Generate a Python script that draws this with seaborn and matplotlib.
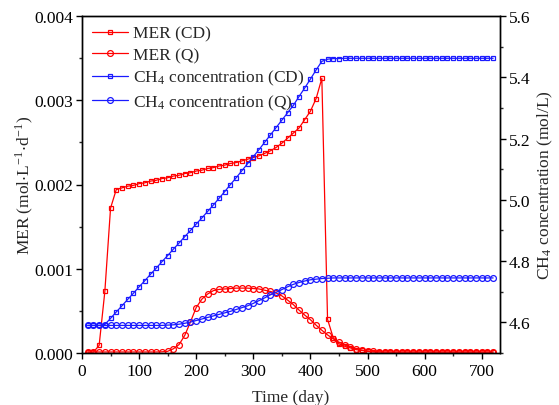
import matplotlib
matplotlib.use("Agg")
import matplotlib.pyplot as plt
import seaborn as sns
import pandas as pd
from matplotlib.ticker import MultipleLocator, FormatStrFormatter
from matplotlib.lines import Line2D

# ---------------- data ----------------
days = list(range(10, 730, 10))

mer_cd = [0.00001, 0.00001, 0.00009, 0.00073, 0.00172, 0.00194, 0.00196, 0.00198, 0.00199, 0.00201,
          0.00202, 0.00204, 0.00205, 0.00207, 0.00208, 0.00210, 0.00211, 0.00213, 0.00214, 0.00216,
          0.00217, 0.00219, 0.00220, 0.00222, 0.00223, 0.00225, 0.00226, 0.00228, 0.00230, 0.00232,
          0.00234, 0.00237, 0.00240, 0.00244, 0.00249, 0.00255, 0.00261, 0.00267, 0.00277, 0.00287,
          0.00302, 0.00326, 0.00040, 0.00018, 0.00011, 0.00008, 0.00006, 0.00004, 0.00003, 0.00002,
          0.00001, 0.00001, 0.00001, 0.00001, 0.00001, 0.00001, 0.00001, 0.00001, 0.00001, 0.00001,
          0.00001, 0.00001, 0.00001, 0.00001, 0.00001, 0.00001, 0.00001, 0.00001, 0.00001, 0.00001,
          0.00001, 0.00001]

mer_q = [0.000012, 0.000012, 0.000012, 0.000012, 0.000012, 0.000012, 0.000012, 0.000012, 0.000012, 0.000012,
         0.000012, 0.000012, 0.000012, 0.000014, 0.00002, 0.00005, 0.00010, 0.00021, 0.00037, 0.00054,
         0.00064, 0.00070, 0.00074, 0.000755, 0.00076, 0.000765, 0.00077, 0.00077, 0.00077, 0.000765,
         0.00076, 0.000745, 0.00073, 0.000712, 0.000678, 0.000628, 0.000575, 0.00051, 0.00045, 0.000395,
         0.00033, 0.00027, 0.000215, 0.000168, 0.000128, 0.000095, 0.00007, 0.00005, 0.000035, 0.000025,
         0.00002, 0.000015, 0.000012, 0.000012, 0.000012, 0.000012, 0.000012, 0.000012, 0.000012, 0.000012,
         0.000012, 0.000012, 0.000012, 0.000012, 0.000012, 0.000012, 0.000012, 0.000012, 0.000012, 0.000012,
         0.000012, 0.000012]

ch4_cd = [4.590, 4.590, 4.590, 4.593, 4.613, 4.634, 4.654, 4.675, 4.695, 4.716,
          4.736, 4.757, 4.777, 4.798, 4.818, 4.839, 4.859, 4.880, 4.900, 4.921,
          4.941, 4.962, 4.983, 5.005, 5.027, 5.050, 5.072, 5.095, 5.118, 5.141,
          5.164, 5.188, 5.212, 5.236, 5.260, 5.284, 5.308, 5.337, 5.365, 5.394,
          5.424, 5.452, 5.459, 5.461, 5.461, 5.462, 5.462, 5.462, 5.462, 5.462,
          5.462, 5.462, 5.462, 5.462, 5.462, 5.462, 5.462, 5.462, 5.462, 5.462,
          5.462, 5.462, 5.462, 5.462, 5.462, 5.462, 5.462, 5.462, 5.462, 5.462,
          5.462, 5.462]

ch4_q = [4.590, 4.590, 4.590, 4.590, 4.590, 4.590, 4.590, 4.590, 4.590, 4.590,
         4.590, 4.590, 4.590, 4.590, 4.591, 4.592, 4.594, 4.597, 4.601, 4.606,
         4.611, 4.616, 4.621, 4.626, 4.631, 4.636, 4.642, 4.648, 4.654, 4.662,
         4.671, 4.680, 4.690, 4.698, 4.707, 4.716, 4.724, 4.730, 4.735, 4.739,
         4.741, 4.743, 4.744, 4.745, 4.745, 4.745, 4.745, 4.745, 4.745, 4.745,
         4.745, 4.745, 4.745, 4.745, 4.745, 4.745, 4.745, 4.745, 4.745, 4.745,
         4.745, 4.745, 4.745, 4.745, 4.745, 4.745, 4.745, 4.745, 4.745, 4.745,
         4.745, 4.745]

labels = ["MER (CD)", "MER (Q)",
          "CH$_\\mathregular{4}$ concentration (CD)", "CH$_\\mathregular{4}$ concentration (Q)"]

df = pd.DataFrame({"day": days, "mer_cd": mer_cd, "mer_q": mer_q,
                   "ch4_cd": ch4_cd, "ch4_q": ch4_q})

# ---------------- style ----------------
sns.set_theme(style="ticks")
plt.rcParams["font.family"] = ["Liberation Serif", "DejaVu Serif"]
plt.rcParams["mathtext.fontset"] = "stix"
plt.rcParams["font.size"] = 12.5
plt.rcParams["axes.linewidth"] = 1.0

RED = "#ff0000"
BLUE = "#1a1aff"

fig = plt.figure(figsize=(5.59, 4.06), dpi=100)
ax = fig.add_axes([82/559, 1-354/406, (500-82)/559, (354-17)/406])
ax2 = ax.twinx()

common = dict(linewidth=0.9, markerfacecolor="none", markeredgewidth=0.9, legend=False)
sns.lineplot(data=df, x="day", y="mer_cd", ax=ax, color=RED, marker="s", markersize=3.2,
             markeredgecolor=RED, **common)
sns.lineplot(data=df, x="day", y="mer_q", ax=ax, color=RED, marker="o", markersize=4.2,
             markeredgecolor=RED, **common)
sns.lineplot(data=df, x="day", y="ch4_cd", ax=ax2, color=BLUE, marker="s", markersize=3.2,
             markeredgecolor=BLUE, **common)
sns.lineplot(data=df, x="day", y="ch4_q", ax=ax2, color=BLUE, marker="o", markersize=4.2,
             markeredgecolor=BLUE, **common)

ax.set_xlim(0, 732)
ax.set_ylim(0, 0.004)
ax2.set_ylim(4.5, 5.6)

ax.xaxis.set_major_locator(MultipleLocator(100))
ax.xaxis.set_minor_locator(MultipleLocator(50))
ax.yaxis.set_major_locator(MultipleLocator(0.001))
ax.yaxis.set_minor_locator(MultipleLocator(0.0005))
ax.yaxis.set_major_formatter(FormatStrFormatter("%.3f"))
ax2.yaxis.set_major_locator(MultipleLocator(0.2))
ax2.yaxis.set_minor_locator(MultipleLocator(0.1))
ax2.yaxis.set_major_formatter(FormatStrFormatter("%.1f"))

for a in (ax, ax2):
    a.tick_params(which="major", direction="out", length=4.5, width=1.0, labelsize=12.5,
                  colors="black")
    a.tick_params(which="minor", direction="out", length=2.5, width=1.0)
    for s in a.spines.values():
        s.set_visible(True)
        s.set_color("black")
        s.set_linewidth(1.0)
ax.tick_params(axis="x", pad=3)
ax.tick_params(axis="y", pad=2)
ax2.tick_params(axis="y", pad=2)

ax.set_xlabel("Time (day)", fontsize=12.5, labelpad=7)
ax.set_ylabel("MER (mol$\\cdot$L$^{\\mathregular{-1}}$$\\cdot$d$^{\\mathregular{-1}}$)", fontsize=12.5, labelpad=-1)
ax2.set_ylabel("CH$_{\\mathregular{4}}$ concentration (mol/L)", fontsize=12.5, labelpad=4)

handles = [
    Line2D([], [], color=RED, lw=0.9, marker="s", ms=3.2, mfc="none", mec=RED, mew=0.9),
    Line2D([], [], color=RED, lw=0.9, marker="o", ms=4.2, mfc="none", mec=RED, mew=0.9),
    Line2D([], [], color=BLUE, lw=0.9, marker="s", ms=3.2, mfc="none", mec=BLUE, mew=0.9),
    Line2D([], [], color=BLUE, lw=0.9, marker="o", ms=4.2, mfc="none", mec=BLUE, mew=0.9),
]
ax2.legend(handles, labels, loc="upper left", frameon=False, fontsize=12.5,
           borderaxespad=0.1, borderpad=0.45, handlelength=2.1, handletextpad=0.3,
           labelspacing=0.3)

fig.savefig("out.png", dpi=100)
